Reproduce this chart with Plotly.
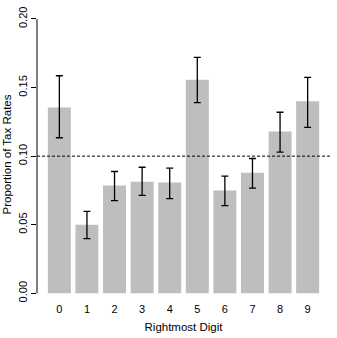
import plotly.graph_objects as go

digits = ["0", "1", "2", "3", "4", "5", "6", "7", "8", "9"]
proportions = [0.1355, 0.0500, 0.0786, 0.0814, 0.0807, 0.1557, 0.0750, 0.0879, 0.1179, 0.1400]
ci_upper = [0.1586, 0.0598, 0.0888, 0.0919, 0.0912, 0.1720, 0.0855, 0.0983, 0.1320, 0.1574]
ci_lower = [0.1134, 0.0398, 0.0676, 0.0714, 0.0690, 0.1390, 0.0640, 0.0767, 0.1030, 0.1210]
reference_line = 0.10
y_ticks = [0.00, 0.05, 0.10, 0.15, 0.20]
y_tick_labels = ["0.00", "0.05", "0.10", "0.15", "0.20"]

err_plus = [u - p for u, p in zip(ci_upper, proportions)]
err_minus = [p - l for l, p in zip(ci_lower, proportions)]

font_family = "Liberation Sans, Arial, Helvetica, sans-serif"

fig = go.Figure()
fig.add_trace(go.Bar(
    x=list(range(len(digits))),
    y=proportions,
    marker=dict(color="#BEBEBE", line=dict(width=0)),
    error_y=dict(type="data", symmetric=False, array=err_plus, arrayminus=err_minus,
                 color="black", thickness=1.3, width=3.5),
))

fig.add_shape(type="line", xref="paper", x0=0, x1=1, yref="y", y0=reference_line, y1=reference_line,
              line=dict(color="black", width=1, dash="3px,2px"))
fig.add_shape(type="line", xref="paper", x0=0, x1=0, yref="y", y0=y_ticks[0], y1=y_ticks[-1],
              line=dict(color="black", width=1))

fig.update_layout(
    width=337, height=338,
    margin=dict(l=35, r=7, t=7, b=32),
    plot_bgcolor="white", paper_bgcolor="white",
    bargap=0.2 / 1.2,
    showlegend=False,
    font=dict(family=font_family, size=11, color="black"),
)
fig.update_xaxes(
    range=[-0.81, 9.81],
    tickmode="array", tickvals=list(range(len(digits))), ticktext=digits,
    showgrid=False, zeroline=False, showline=False, ticks="",
    title=dict(text="Rightmost Digit", font=dict(size=11.5), standoff=8),
)
fig.update_yaxes(
    range=[-0.0056, 0.208],
    tickmode="array", tickvals=y_ticks, ticktext=y_tick_labels,
    tickangle=-90,
    showgrid=False, zeroline=False, showline=False,
    ticks="outside", ticklen=5, tickcolor="black", tickwidth=1,
    title=dict(text="Proportion of Tax Rates", font=dict(size=11.5), standoff=2),
)

fig.write_html("out.html")
